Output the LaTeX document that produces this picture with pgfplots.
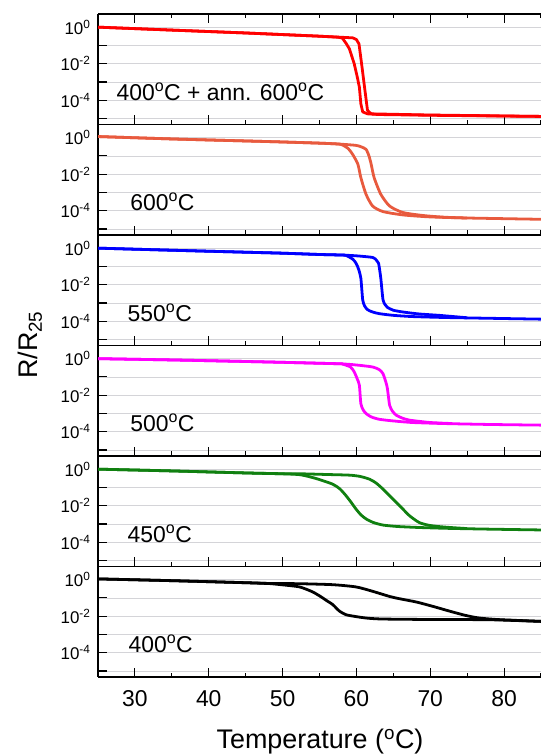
\documentclass[border=0pt]{standalone}
\usepackage{fontspec}
\setmainfont{Liberation Sans}
\usepackage{pgfplots}
\pgfplotsset{compat=1.18}

\definecolor{cRed}{RGB}{255,0,0}
\definecolor{cCoral}{RGB}{232,90,62}
\definecolor{cBlue}{RGB}{0,0,255}
\definecolor{cMag}{RGB}{255,0,255}
\definecolor{cGreen}{RGB}{16,128,16}
\definecolor{cGrid}{RGB}{212,212,216}

\pgfplotsset{
  every axis/.append style={
    scale only axis, width=443bp, height=110.5bp,
    anchor=north west,
    xmin=25, xmax=85, ymin=4.7e-6, ymax=5.25,
    axis y line*=left,
    axis line style={line width=1.1pt, black},
    xtick={30,40,...,80}, minor xtick={35,45,...,85},
    ytick={1e-5,1e-4,1e-3,1e-2,1e-1,1},
    yticklabels={,10\textsuperscript{-4},,10\textsuperscript{-2},,10\textsuperscript{0}},
    yminorticks=false,
    tick align=inside,
    major tick length=9bp, minor tick length=4.5bp,
    tick style={line width=1.1pt, black},
    ymajorgrids, grid style={cGrid, line width=0.8pt},
    yticklabel style={font=\fontsize{17}{20}\selectfont, xshift=-4bp},
  },
  every axis plot/.append style={line width=2.8pt, line join=round},
}
\tikzset{plbl/.style={anchor=base west, font=\fontsize{23}{27}\selectfont}}

\begin{document}
\begin{tikzpicture}

% 400 C + anneal 600 C
\begin{axis}[ymode=log, at={(98bp,742bp)}, xtick pos=both, xticklabels={}]
\addplot[cRed] coordinates {(25,1.0)(35,0.69)(45,0.48)(55,0.32)(57.6,0.28)(58.1,0.25)(58.6,0.13)(59.05,0.065)(59.7,0.010)(60.1,0.002)(60.4,5.2e-4)(60.6,6.5e-5)(60.85,2.3e-5)(61.5,1.8e-5)(63,1.65e-5)(70,1.5e-5)(85,1.3e-5)};
\addplot[cRed] coordinates {(25,1.0)(35,0.69)(45,0.48)(55,0.32)(59.5,0.26)(60.0,0.21)(60.35,0.12)(60.7,0.01)(61.1,5.2e-4)(61.5,2.8e-5)(62.0,1.8e-5)(70,1.55e-5)(85,1.3e-5)};
\node[plbl] at (rel axis cs:0.034,0.22) {400\textsuperscript{o}C + ann. 600\textsuperscript{o}C};
\end{axis}

% 600 C
\begin{axis}[ymode=log, at={(98bp,631.5bp)}, xtick pos=left, xticklabels={}]
\addplot[cCoral, smooth, tension=0.4] coordinates {(25,1.15)(35,0.85)(45,0.66)(50,0.58)(55,0.5)(57.5,0.45)(58.1,0.40)(58.9,0.25)(59.5,0.12)(60.2,0.035)(60.6,0.0065)(61.3,8e-4)(62.2,1.8e-4)(63.6,9e-5)(66.3,5.9e-5)(69.9,4.6e-5)(75,4e-5)(85,3.4e-5)};
\addplot[cCoral, smooth, tension=0.4] coordinates {(25,1.15)(35,0.85)(45,0.66)(50,0.58)(55,0.5)(57.5,0.45)(59.9,0.38)(60.6,0.32)(61.3,0.23)(61.7,0.10)(62.0,0.035)(62.4,0.0065)(63.3,8e-4)(64.5,1.8e-4)(66.3,8e-5)(69,5.5e-5)(72,4.4e-5)(75,4e-5)};
\node[plbl] at (rel axis cs:0.065,0.22) {600\textsuperscript{o}C};
\end{axis}

% 550 C
\begin{axis}[ymode=log, at={(98bp,521bp)}, xtick pos=left, xticklabels={}]
\addplot[cBlue, smooth, tension=0.4] coordinates {(25,1.0)(35,0.77)(45,0.6)(50,0.53)(55,0.45)(58,0.42)(58.6,0.40)(59.5,0.25)(59.95,0.15)(60.3,0.07)(60.6,0.023)(60.85,1.5e-3)(61.1,7e-4)(61.5,4.3e-4)(62.2,3.2e-4)(63.1,2.6e-4)(65,2.1e-4)(67.6,1.8e-4)(72,1.6e-4)(78,1.45e-4)(85,1.3e-4)};
\addplot[cBlue, smooth, tension=0.4] coordinates {(25,1.0)(35,0.77)(45,0.6)(50,0.53)(55,0.45)(58,0.42)(60,0.38)(62.2,0.31)(62.7,0.22)(63.0,0.15)(63.3,0.023)(63.6,1.5e-3)(63.9,8e-4)(64.2,5.7e-4)(65,4e-4)(66.3,3.2e-4)(68.5,2.5e-4)(71.2,2.1e-4)(75,1.55e-4)};
\node[plbl] at (rel axis cs:0.059,0.22) {550\textsuperscript{o}C};
\end{axis}

% 500 C
\begin{axis}[ymode=log, at={(98bp,410.5bp)}, xtick pos=left, xticklabels={}]
\addplot[cMag, smooth, tension=0.4] coordinates {(25,1.0)(35,0.85)(45,0.7)(50,0.63)(55,0.56)(58,0.52)(58.1,0.51)(59.2,0.35)(59.7,0.19)(60.1,0.08)(60.4,0.035)(60.6,3.5e-3)(60.9,1.6e-3)(61.3,1e-3)(62,6.5e-4)(63.1,4.8e-4)(65,3.9e-4)(67.6,3.2e-4)(72,2.8e-4)(78,2.5e-4)(85,2.3e-4)};
\addplot[cMag, smooth, tension=0.4] coordinates {(25,1.0)(35,0.85)(45,0.7)(50,0.63)(55,0.56)(58,0.52)(60,0.45)(62.2,0.35)(63.1,0.25)(63.6,0.15)(64.0,0.05)(64.2,0.023)(64.5,2.8e-3)(64.9,1.3e-3)(65.4,8e-4)(66.2,5.6e-4)(67.2,4.3e-4)(70,3.2e-4)(73,2.8e-4)};
\node[plbl] at (rel axis cs:0.065,0.22) {500\textsuperscript{o}C};
\end{axis}

% 450 C
\begin{axis}[ymode=log, at={(98bp,300bp)}, xtick pos=left, xticklabels={}]
\addplot[cGreen, smooth, tension=0.4] coordinates {(25,1.0)(35,0.8)(45,0.62)(49,0.57)(52.3,0.50)(54.5,0.31)(56.8,0.15)(57.8,0.08)(58.6,0.035)(59.3,0.015)(59.95,6.5e-3)(60.6,3.2e-3)(61.3,1.9e-3)(62.3,1.2e-3)(63.6,8.7e-4)(65.5,7.3e-4)(68.1,6.5e-4)(72,5.8e-4)(78,5.2e-4)(85,4.7e-4)};
\addplot[cGreen, smooth, tension=0.4] coordinates {(25,1.0)(35,0.8)(45,0.62)(49,0.57)(52.3,0.56)(56,0.51)(59.05,0.47)(60.5,0.40)(61.8,0.28)(62.7,0.17)(63.6,0.081)(64.5,0.035)(65.4,0.015)(66.3,6.5e-3)(67.2,2.8e-3)(68.5,1.2e-3)(69.8,8.5e-4)(71.2,7.2e-4)(73,6.3e-4)(75,5.6e-4)};
\node[plbl] at (rel axis cs:0.059,0.22) {450\textsuperscript{o}C};
\end{axis}

% 400 C
\begin{axis}[ymode=log, at={(98bp,189.5bp)}, xtick pos=left,
  xticklabels={30,40,50,60,70,80},
  xticklabel style={font=\fontsize{23}{27}\selectfont, yshift=-9.5bp}]
\addplot[black, smooth, tension=0.4] coordinates {(25,1.1)(35,0.88)(45,0.68)(48,0.62)(50,0.52)(52.3,0.40)(54,0.22)(55,0.13)(56,0.07)(56.8,0.043)(57.7,0.019)(58.6,0.012)(59.95,0.0095)(61.5,0.0078)(63.6,0.007)(70,0.0066)(78,0.0064)(85,0.0052)};
\addplot[black, smooth, tension=0.4] coordinates {(25,1.1)(35,0.88)(45,0.68)(48,0.62)(52.3,0.6)(56.8,0.53)(59.95,0.40)(62.2,0.23)(64.5,0.12)(65.8,0.091)(68.1,0.06)(70.3,0.035)(72.6,0.019)(74.8,0.011)(76.6,0.008)(79.3,0.0065)(85,0.0052)};
\node[plbl] at (rel axis cs:0.061,0.22) {400\textsuperscript{o}C};
\end{axis}

\node[rotate=90, font=\fontsize{27}{32}\selectfont] at (30bp,411bp) {R/R\textsubscript{25}};
\node[font=\fontsize{27}{32}\selectfont] at (320bp,14bp) {Temperature (\textsuperscript{o}C)};

\pgfresetboundingbox
\path (0,0) rectangle (541bp,756bp);
\end{tikzpicture}
\end{document}
